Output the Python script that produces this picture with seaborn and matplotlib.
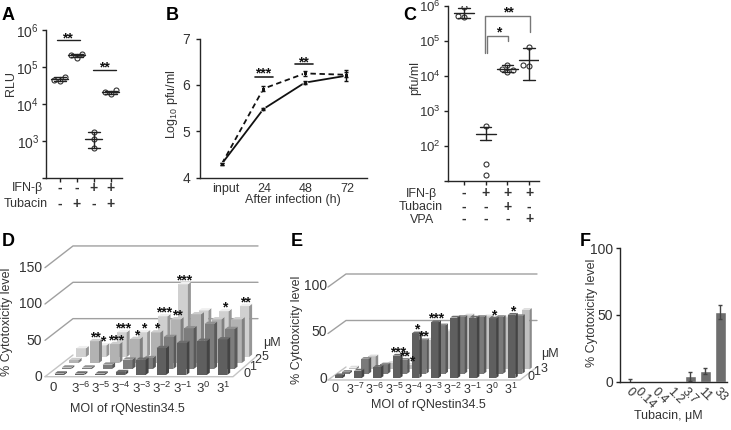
import numpy as np
import pandas as pd
import matplotlib
matplotlib.use("Agg")
import matplotlib.pyplot as plt
import seaborn as sns

# ---------- panel A ----------
a_groups = ["g1", "g2", "g3", "g4"]
a_points = [[5.5e4, 4.5e4, 4.3e4], [2.3e5, 2.1e5, 1.8e5], [1.7e3, 1.1e3, 6.5e2], [2.4e4, 2.1e4, 1.9e4]]
a_means = [4.8e4, 2.1e5, 1.1e3, 2.1e4]
a_low = [4.3e4, 1.9e5, 6.5e2, 1.9e4]
a_high = [5.4e4, 2.3e5, 1.7e3, 2.3e4]
a_ifn = ["-", "-", "+", "+"]
a_tub = ["-", "+", "-", "+"]

# ---------- panel B ----------
b_times = ["input", "24", "48", "72"]
b_solid = [4.3, 5.48, 6.05, 6.2]
b_dashed = [4.3, 5.92, 6.25, 6.22]
b_solid_err = [0.02, 0.02, 0.03, 0.12]
b_dashed_err = [0.02, 0.05, 0.05, 0.05]

# ---------- panel C ----------
c_groups = ["g1", "g2", "g3", "g4"]
c_points = [[9e5, 5.2e5, 4.8e5], [380, 30, 15], [2e4, 1.6e4, 1.5e4, 1.3e4], [6.8e4, 2e4, 1.9e4]]
c_means = [6.3e5, 220, 1.6e4, 2.8e4]
c_low = [4.6e5, 145, 1.25e4, 7.8e3]
c_high = [8.5e5, 350, 2e4, 6.3e4]
c_ifn = ["-", "+", "+", "+"]
c_tub = ["-", "-", "+", "-"]
c_vpa = ["-", "-", "-", "+"]

# ---------- panel D ----------
d_labels = ["0", "3$^{-6}$", "3$^{-5}$", "3$^{-4}$", "3$^{-3}$", "3$^{-2}$", "3$^{-1}$", "3$^{0}$", "3$^{1}$"]
d_row0 = [2, 2, 2, 4, 21, 37, 44, 47, 49]
d_row1 = [2, 2, 6, 13, 15, 44, 56, 62, 55]
d_row2 = [4, 30, 26, 33, 42, 60, 67, 60, 60]
d_row3 = [12, 16, 34, 34, 56, 100, 64, 63, 70]
d_rows = ["0", "1", "2", "5"]
d_stars = [(1, 2, "**"), (1, 3, "*"), (2, 2, "***"), (2, 3, "***"), (3, 2, "*"), (3, 3, "*"),
           (4, 2, "*"), (4, 3, "***"), (5, 2, "**"), (5, 3, "***"), (7, 3, "*"), (8, 3, "**")]

# ---------- panel E ----------
e_labels = ["0", "3$^{-7}$", "3$^{-6}$", "3$^{-5}$", "3$^{-4}$", "3$^{-3}$", "3$^{-2}$", "3$^{-1}$", "3$^{0}$", "3$^{1}$"]
e_row0 = [3, 8, 12, 24, 48, 60, 65, 65, 64, 68]
e_row1 = [2, 16, 10, 15, 36, 52, 61, 61, 61, 62]
e_row2 = [2, 14, 7, 5, 32, 41, 58, 57, 56, 64]
e_rows = ["0", "1", "3"]
e_stars = [(3, 0, "***"), (3, 1, "**"), (3, 2, "*"), (4, 0, "*"), (4, 1, "**"), (5, 0, "***"), (8, 0, "*"), (9, 0, "*")]

# ---------- panel F ----------
f_doses = ["0", "0.14", "0.4", "1.2", "3.7", "11", "33"]
f_values = [0, 0, 0, 0, 4, 8, 52]
f_err = [2, 0, 0, 0, 3.5, 2.5, 5]

sns.set_style("ticks")
plt.rcParams["font.family"] = ["Liberation Sans", "DejaVu Sans"]
plt.rcParams["mathtext.default"] = "regular"
plt.rcParams["axes.linewidth"] = 1.0
plt.rcParams["text.color"] = "#333333"
plt.rcParams["axes.labelcolor"] = "#333333"
plt.rcParams["xtick.color"] = "#222222"
plt.rcParams["ytick.color"] = "#222222"
plt.rcParams["xtick.labelcolor"] = "#333333"
plt.rcParams["ytick.labelcolor"] = "#333333"

W, H = 731, 430
FS = 9
FS_BIG = 10
fig = plt.figure(figsize=(W / 100, H / 100), dpi=100)


def panel(left, top, right, bottom):
    ax = fig.add_axes([left / W, 1 - bottom / H, (right - left) / W, (bottom - top) / H])
    ax.patch.set_alpha(0)
    sns.despine(ax=ax)
    ax.tick_params(labelsize=FS, length=3, width=1, pad=2)
    return ax


# pixel overlay for labels, brackets and the pseudo 3D panels
px = fig.add_axes([0, 0, 1, 1])
px.set_xlim(0, W)
px.set_ylim(H, 0)
px.axis("off")


def label(x, y, s, **kw):
    kw.setdefault("fontsize", FS)
    px.text(x, y, s, ha=kw.pop("ha", "center"), va=kw.pop("va", "center"), **kw)


def star(x, y, s):
    px.text(x, y + 3, s, ha="center", va="center", fontsize=10, fontweight="bold", color="#111111", zorder=9)


def sign_row(ax, signs, below):
    for i, s in enumerate(signs):
        ax.annotate(s, xy=(i, 0), xycoords=("data", "axes fraction"), xytext=(0, -below * 0.72),
                    textcoords="offset points", ha="center", va="center", fontsize=FS_BIG, fontweight="bold")


def mean_bars(ax, means, low, high, w_mean, w_cap):
    for i in range(len(means)):
        ax.plot([i - w_mean, i + w_mean], [means[i]] * 2, color="#222222", lw=1, zorder=4)
        ax.plot([i, i], [low[i], high[i]], color="#222222", lw=1, zorder=4)
        ax.plot([i - w_cap, i + w_cap], [low[i]] * 2, color="#222222", lw=1, zorder=4)
        ax.plot([i - w_cap, i + w_cap], [high[i]] * 2, color="#222222", lw=1, zorder=4)


def swarm(ax, groups, points):
    df = pd.DataFrame([(g, v) for g, vals in zip(groups, points) for v in vals], columns=["group", "value"])
    sns.swarmplot(data=df, x="group", y="value", ax=ax, color="white", edgecolor="#333333",
                  linewidth=0.8, size=3.6, zorder=3, warn_thresh=1)
    ax.set_xlabel("")
    ax.set_ylabel("")


def nudge(ax, group, shifts):
    # swarm leaves far apart points on the centre line, the figure has them set off to the sides
    pts = ax.collections[group].get_offsets().copy()
    pts[:, 0] = pts[:, 0] + np.array(shifts)
    ax.collections[group].set_offsets(pts)


# panel A
ax_a = panel(46, 30, 122, 178)
ax_a.set_yscale("log")
swarm(ax_a, a_groups, a_points)
nudge(ax_a, 2, [0.05, 0.2, -0.12])
mean_bars(ax_a, a_means, a_low, a_high, 0.5, 0.35)
ax_a.set_ylim(1e2, 1e6)
ax_a.set_xlim(-0.82, 3.65)
ax_a.set_yticks([1e2, 1e3, 1e4, 1e5, 1e6], ["", "10$^{3}$", "10$^{4}$", "10$^{5}$", "10$^{6}$"])
ax_a.tick_params(axis="y", labelsize=FS_BIG)
ax_a.minorticks_off()
ax_a.set_xticks(range(4), [""] * 4)
sign_row(ax_a, a_ifn, 10)
sign_row(ax_a, a_tub, 26)
label(27, 188, "IFN-β")
label(26, 204, "Tubacin")
label(11, 84, "RLU", rotation=90)
px.plot([57, 80], [40, 40], color="#222222", lw=1)
px.plot([93, 116], [70, 70], color="#222222", lw=1)
star(67, 35, "**")
star(104, 64, "**")

# panel B
ax_b = panel(200, 38.7, 367, 177.5)
df_b = pd.DataFrame({
    "time": b_times * 2,
    "value": b_solid + b_dashed,
    "series": ["solid"] * 4 + ["dashed"] * 4,
})
sns.lineplot(data=df_b, x="time", y="value", style="series", sort=False, ax=ax_b, color="#111111", lw=1.3,
             dashes={"solid": "", "dashed": (3, 2)}, markers={"solid": "o", "dashed": "s"},
             markersize=3.5, legend=False, errorbar=None)
ax_b.errorbar(range(4), b_solid, yerr=b_solid_err, fmt="none", ecolor="#111111", elinewidth=1, capsize=1.5)
ax_b.errorbar(range(4), b_dashed, yerr=b_dashed_err, fmt="none", ecolor="#111111", elinewidth=1, capsize=1.5)
ax_b.set_xlim(-0.53, 3.5)
ax_b.set_ylim(4, 7)
ax_b.set_yticks([4, 5, 6, 7])
ax_b.tick_params(axis="y", labelsize=FS_BIG, pad=4)
ax_b.set_xticks([0.09, 1.03, 2.03, 3.03], b_times)
ax_b.tick_params(axis="x", length=0, pad=4)
ax_b.set_xlabel("")
ax_b.set_ylabel("")
label(172, 104, "Log$_{10}$ pfu/ml", rotation=90)
label(293, 200, "After infection (h)")
px.plot([254.7, 273], [77, 77], color="#222222", lw=1.2)
px.plot([294.7, 312.7], [63.7, 63.7], color="#222222", lw=1.2)
star(263, 70, "***")
star(303, 59, "**")

# panel C
ax_c = panel(448, 5.7, 539, 181)
ax_c.set_yscale("log")
swarm(ax_c, c_groups, c_points)
nudge(ax_c, 1, [0, 0.16, -0.16])
mean_bars(ax_c, c_means, c_low, c_high, 0.47, 0.26)
ax_c.set_ylim(1e1, 1e6)
ax_c.set_xlim(-0.74, 3.46)
ax_c.set_yticks([1e1, 1e2, 1e3, 1e4, 1e5, 1e6], ["", "10$^{2}$", "10$^{3}$", "10$^{4}$", "10$^{5}$", "10$^{6}$"])
ax_c.tick_params(axis="y", labelsize=9.5)
ax_c.minorticks_off()
ax_c.set_xticks(range(4), [""] * 4)
sign_row(ax_c, c_ifn, 12)
sign_row(ax_c, c_tub, 26)
sign_row(ax_c, c_vpa, 38)
label(421, 194, "IFN-β")
label(421, 207, "Tubacin")
label(422, 220, "VPA")
label(415, 78, "pfu/ml", rotation=90)
px.plot([485, 485, 530, 530], [53, 16, 16, 32], color="#777777", lw=1)
px.plot([487, 487, 508, 508], [53, 36, 36, 41], color="#777777", lw=1)
star(508, 9.3, "**")
star(499, 29, "*")


def shade(color, f):
    return tuple(np.clip(np.array(matplotlib.colors.to_rgb(color)) * f, 0, 1))


def bars3d(rows, palette, x0, dx, rx, ry, base, s, w, sx, sy):
    # back row first so the nearer bars cover it
    for r in range(len(rows) - 1, -1, -1):
        for c, v in enumerate(rows[r]):
            xl = x0 + c * dx + r * rx
            yb = base - r * ry
            yt = yb - v * s
            col = palette[r]
            px.fill([xl, xl + w, xl + w, xl], [yb, yb, yt, yt], color=col, lw=0, zorder=3 + (len(rows) - r))
            px.fill([xl + w, xl + w + sx, xl + w + sx, xl + w], [yb, yb - sy, yt - sy, yt],
                    color=shade(col, 0.72), lw=0, zorder=3 + (len(rows) - r))
            px.fill([xl, xl + w, xl + w + sx, xl + sx], [yt, yt, yt - sy, yt - sy],
                    color=shade(col, 1.15), lw=0, zorder=3 + (len(rows) - r))


def walls(ticks, fl, fb, fr, br, zero_f, zero_b, s):
    for t in ticks:
        px.plot([fl, fb, br], [zero_f - t * s, zero_b - t * s, zero_b - t * s], color="#a0a0a0", lw=1, zorder=1)
    px.plot([fl, fr, br], [zero_f, zero_f, zero_b], color="#c4c4c4", lw=1, zorder=1)
    px.plot([fl, fb], [zero_f, zero_b], color="#c4c4c4", lw=1, zorder=1)


# panel D
d_scale = 0.727
d_palette = sns.color_palette(["#5f5f5f", "#7d7d7d", "#b2b2b2", "#d0d0d0"])
walls([50, 100, 150], 45, 73, 233, 258, 376.7, 355, d_scale)
d_data = [d_row0, d_row1, d_row2, d_row3]
bars3d(d_data, d_palette, 54.5, 20.4, 7.3, 6, 375, d_scale, 9.5, 3, 2.3)
for c, r, s in d_stars:
    star(54.5 + c * 20.4 + r * 7.3 + 6, 375 - r * 6 - d_data[r][c] * d_scale - 6.5, s)
for t in [0, 50, 100, 150]:
    label(42, 377 - t * d_scale, str(t), ha="right", fontsize=FS_BIG)
for c, s in enumerate(d_labels):
    label((53 if c == 0 else 59 + c * 20.4 + 1), 388, s, fontsize=9.5)
label(7, 322, "% Cytotoxicity level", rotation=90)
label(127, 409, "MOI of rQNestin34.5")
for x, y, s in zip([247, 253, 258, 265], [374, 367, 360, 357], d_rows):
    label(x, y, s)
label(272, 343, "μM")

# panel E
e_scale = 0.93
e_palette = sns.color_palette(["#5f5f5f", "#7a7a7a", "#c0c0c0"])
walls([50, 100], 328, 346, 520, 537, 380, 367, e_scale)
e_data = [e_row0, e_row1, e_row2]
bars3d(e_data, e_palette, 335, 19.2, 7, 4.3, 378, e_scale, 7.5, 2.5, 1.8)
for c, r, s in e_stars:
    star(335 + c * 19.2 + r * 7 + 5, 378 - r * 4.3 - e_data[r][c] * e_scale - 6.5, s)
for t in [0, 50, 100]:
    label(327, 379 - t * e_scale, str(t), ha="right", fontsize=FS_BIG)
for c, s in enumerate(e_labels):
    label(335.5 + c * 19.5, 389, s, fontsize=9)
label(297, 330, "% Cytotoxicity level", rotation=90)
label(428, 405, "MOI of rQNestin34.5")
for x, y, s in zip([531, 537, 544], [377, 372, 369], e_rows):
    label(x, y, s)
label(550, 354, "μM")

# panel F
ax_f = panel(620, 248, 727, 381.7)
sns.barplot(x=f_doses, y=f_values, color="#6e6e6e", saturation=1, width=0.75, errorbar=None, ax=ax_f)
f_idx = [i for i, e in enumerate(f_err) if e > 0]
ax_f.errorbar(f_idx, [f_values[i] for i in f_idx], yerr=[f_err[i] for i in f_idx],
              fmt="none", ecolor="#444444", elinewidth=1, capsize=1.5)
ax_f.set_xlim(-0.67, 6.45)
ax_f.set_ylim(0, 100)
ax_f.set_yticks([0, 50, 100])
ax_f.tick_params(axis="y", labelsize=FS_BIG)
ax_f.set_xticks(range(7), f_doses, rotation=-45, ha="center", rotation_mode="default", fontsize=FS)
ax_f.tick_params(axis="x", length=0, pad=3)
label(592, 313, "% Cytotoxicity level", rotation=90)
label(668, 416, "Tubacin, μM")

# panel letters
for x, y, s in [(8, 15, "A"), (172, 15, "B"), (410, 15, "C"), (8, 242, "D"), (297, 242, "E"), (585, 242, "F")]:
    px.text(x, y, s, ha="center", va="center", fontsize=13, fontweight="bold", color="black")

fig.savefig("out.png", dpi=100)
